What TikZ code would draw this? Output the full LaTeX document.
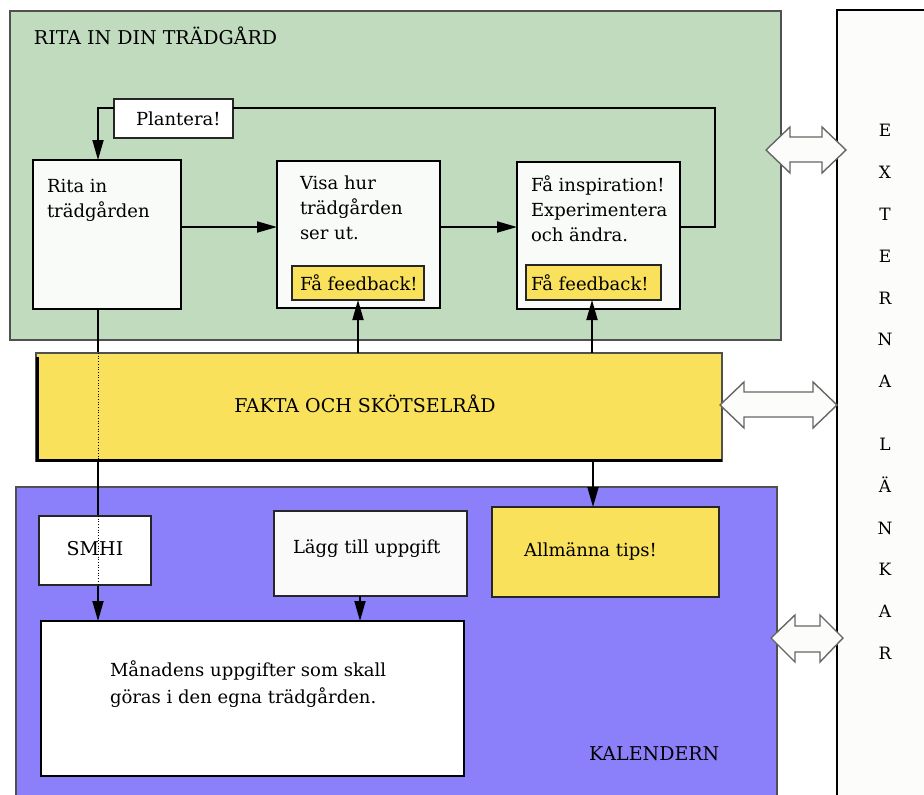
\documentclass[tikz,border=0pt]{standalone}
\usepackage{fontspec}
\setmainfont{DejaVu Serif}
\usetikzlibrary{arrows.meta}
\definecolor{greenC}{HTML}{C1DBBF}
\definecolor{yellowC}{HTML}{F9E15B}
\definecolor{blueC}{HTML}{8C80FA}
\definecolor{paleC}{HTML}{F9FBF8}
\definecolor{panelC}{HTML}{FCFCFA}
\definecolor{edgeC}{HTML}{505050}
\tikzset{
  area/.style={rectangle, anchor=north west, inner sep=0pt, outer sep=0pt, draw=edgeC, line width=1.1pt},
  mainbox/.style={rectangle, anchor=north west, inner sep=0pt, outer sep=0pt, draw=black, line width=2.2pt, fill=paleC},
  thinbox/.style={rectangle, anchor=north west, inner sep=0pt, outer sep=0pt, draw=black!85, line width=1.2pt},
  txt/.style={inner sep=0pt, outer sep=0pt, font=\fontsize{18}{25}\selectfont, align=left, text=black},
  caps/.style={txt, font=\fontsize{19}{25}\selectfont},
  conn/.style={draw=black, line width=1.8pt},
  arr/.style={conn, -{Triangle[length=20pt,width=11pt]}},
  dbl/.style={fill=panelC, draw=black!60, line width=1.4pt, line join=miter},
}
\begin{document}
\begin{tikzpicture}[x=1pt,y=-1pt]
\useasboundingbox (0,0) rectangle (924,795);
% background areas
\node[area, fill=greenC, minimum width=771pt, minimum height=329pt] (garden) at (10,11) {};
\node[area, fill=panelC, draw=black, minimum width=100pt, minimum height=800pt] (ext) at (837,10) {};
\node[area, fill=blueC, minimum width=761pt, minimum height=320pt] (cal) at (16,487) {};
% garden boxes
\node[thinbox, fill=white, minimum width=119pt, minimum height=39pt] (plant) at (114,99) {};
\node[mainbox, minimum width=148pt, minimum height=149pt] (rita) at (33,160) {};
\node[mainbox, minimum width=163pt, minimum height=147pt] (visa) at (277,161) {};
\node[mainbox, minimum width=163pt, minimum height=147pt] (insp) at (517,162) {};
\node[thinbox, fill=yellowC, minimum width=132pt, minimum height=34pt] (fb1) at (292,266) {};
\node[thinbox, fill=yellowC, minimum width=135pt, minimum height=35pt] (fb2) at (526,265) {};
% calendar boxes
\node[mainbox, fill=white, line width=2pt, minimum width=423pt, minimum height=155pt] (mon) at (41,621) {};
\node[thinbox, fill=white!98!black, minimum width=193pt, minimum height=85pt] (lagg) at (274,511) {};
\node[thinbox, fill=yellowC, minimum width=227pt, minimum height=90pt] (allm) at (492,507) {};
% coordinates for connector routes
\coordinate (row) at (0,227);
\coordinate (top) at (0,108);
\coordinate (loopx) at (715,0);
\coordinate (dropx) at (98,0);
\coordinate (laggx) at (360,0);
\coordinate (tipsx) at (593,0);
\coordinate (fbx) at (592,0);
% long line from Rita down to the month box (passes behind FAKTA and SMHI)
\draw[arr] (rita.south -| dropx) -- (mon.north -| dropx);
% FAKTA box and SMHI drawn over it
\node[area, fill=yellowC, minimum width=686pt, minimum height=108pt] (fakta) at (36,353) {};
\draw[black, line width=3pt] ([shift={(1.5,4)}]fakta.north west) -- ([shift={(1.5,-1)}]fakta.south west) -- ([shift={(0,-1)}]fakta.south east);
\node[thinbox, fill=white, minimum width=112pt, minimum height=69pt] (smhi) at (39,516) {};
\draw[black, line width=0.7pt, dotted] (fakta.north -| dropx) -- (fakta.south -| dropx);
\draw[black, line width=0.7pt, dotted] (smhi.north -| dropx) -- (smhi.south -| dropx);
% connectors
\draw[arr] (rita.east |- row) -- (visa.west |- row);
\draw[arr] (visa.east |- row) -- (insp.west |- row);
\draw[conn, line join=miter] (insp.east |- row) -- (loopx |- row) -- (loopx |- top) -- (plant.east |- top);
\draw[arr] (plant.west |- top) -- (dropx |- top) -- (rita.north -| dropx);
\draw[arr] (fakta.north -| fb1.south) -- (fb1.south);
\draw[arr] (fakta.north -| fbx) -- (fb2.south -| fbx);
\draw[arr] (fakta.south -| tipsx) -- (allm.north -| tipsx);
\draw[arr] (lagg.south -| laggx) -- (mon.north -| laggx);
% double arrows to the external links
\draw[dbl] (766,150) coordinate (d1l) -- (790,127) -- (790,137) -- (822,137) -- (822,127) -- (846,150) coordinate (d1r) -- (822,173) -- (822,162) -- (790,162) -- (790,173) -- cycle;
\draw[dbl] (720,405) coordinate (d2l) -- (744,382) -- (744,392) -- (813,392) -- (813,382) -- (837,405) coordinate (d2r) -- (813,428) -- (813,417) -- (744,417) -- (744,428) -- cycle;
\draw[dbl] (771,638) coordinate (d3l) -- (795,615) -- (795,626) -- (820,626) -- (820,615) -- (843,638) coordinate (d3r) -- (820,662) -- (820,652) -- (795,652) -- (795,662) -- cycle;
% texts
\node[caps, anchor=west] (tgarden) at (34,36) {RITA IN DIN TRÄDGÅRD};
\node[txt, anchor=west] (tplant) at (136,119) {Plantera!};
\node[txt, anchor=west] (trita) at (47,200) {Rita in\\trädgården};
\node[txt, anchor=west] (tvisa) at (300,208) {Visa hur\\trädgården\\ser ut.};
\node[txt, anchor=west] (tinsp) at (531,209) {Få inspiration!\\Experimentera\\och ändra.};
\node[txt, anchor=west] (tfb1) at (300,283) {Få feedback!};
\node[txt, anchor=west] (tfb2) at (531,283) {Få feedback!};
\node[caps] (tfakta) at (365,404) {FAKTA OCH SKÖTSELRÅD};
\node[caps] (tsmhi) at (95,549) {SMHI};
\node[txt, anchor=west] (tlagg) at (293,549) {Lägg till uppgift};
\node[txt, anchor=west] (tallm) at (524,551) {Allmänna tips!};
\node[txt, anchor=west, font=\fontsize{18}{27}\selectfont] (tmon) at (110,684) {Månadens uppgifter som skall\\göras i den egna trädgården.};
\node[caps, anchor=west] (tcal) at (589,754) {KALENDERN};
\node[txt, align=center, font=\fontsize{17}{41.8}\selectfont] (text) at (885,392) {E\\X\\T\\E\\R\\N\\A\\[21pt]L\\Ä\\N\\K\\A\\R};
\end{tikzpicture}
\end{document}
